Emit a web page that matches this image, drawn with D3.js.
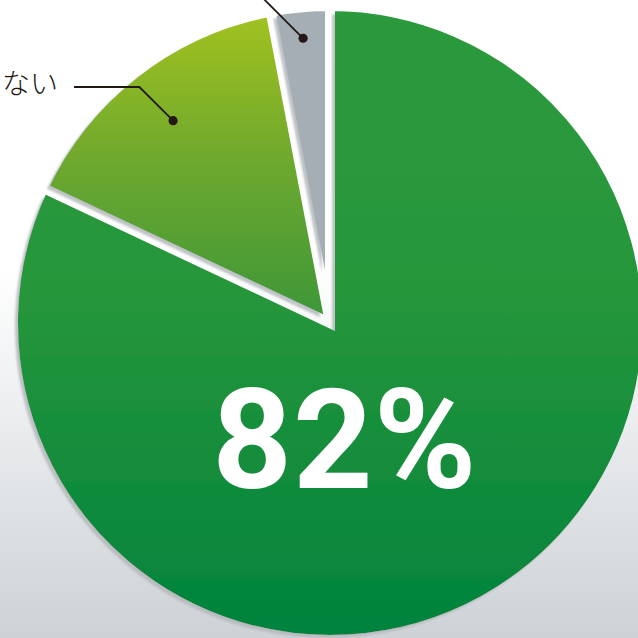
<!DOCTYPE html>
<html lang="ja">
<head>
<meta charset="utf-8">
<title>円グラフ</title>
<script src="https://cdn.jsdelivr.net/npm/d3@7"></script>
<style>
  body { margin: 0; overflow: hidden; background: #fff; }
</style>
</head>
<body>
<script>
  // データ
  const categories = ["main", "ない", "other"];
  const values = [82, 15, 3];
  const labels = ["", "ない", ""];
  const bigLabel = "82%";
  // 各スライスのグラデーション（上、中、下）
  const sliceColors = [
    ["#2c9a3d", "#27963b", "#00833c"],
    ["#a2c21f", "#72aa2d", "#3e9738"],
    ["#a5aeb4", "#a5aeb4", "#a5aeb4"]
  ];

  const w = 638, h = 638;
  const cx = 330, cy = 323;
  const r = 317;
  const gap = 10;   // スライス間の白いすき間

  const svg = d3.select("body").append("svg")
    .attr("width", w)
    .attr("height", h);

  const defs = svg.append("defs");

  // 背景
  const bg = defs.append("linearGradient")
    .attr("id", "bg")
    .attr("x1", 0).attr("y1", 0).attr("x2", 0).attr("y2", 1);
  bg.append("stop").attr("offset", 0.42).attr("stop-color", "#ffffff");
  bg.append("stop").attr("offset", 1).attr("stop-color", "#cdd2d6");
  svg.append("rect")
    .attr("width", w).attr("height", h)
    .attr("fill", "url(#bg)");

  // 影
  const shadow = defs.append("filter")
    .attr("id", "shadow")
    .attr("x", "-10%").attr("y", "-10%")
    .attr("width", "120%").attr("height", "120%");
  shadow.append("feDropShadow")
    .attr("dx", -3).attr("dy", 3)
    .attr("stdDeviation", 0.8)
    .attr("flood-color", "#b4b8bb")
    .attr("flood-opacity", 0.85);

  const pie = d3.pie().sort(null).startAngle(0).endAngle(2 * Math.PI);
  const arcs = pie(values);

  const arc = d3.arc().innerRadius(0).outerRadius(r);

  // スライスごとのグラデーション（縦方向）
  const gradY = [[-313, 312], [-310, -8], [-310, -40]];
  arcs.forEach(function (d, i) {
    const g = defs.append("linearGradient")
      .attr("id", "grad" + i)
      .attr("gradientUnits", "userSpaceOnUse")
      .attr("x1", 0).attr("y1", gradY[i][0])
      .attr("x2", 0).attr("y2", gradY[i][1]);
    g.append("stop").attr("offset", 0).attr("stop-color", sliceColors[i][0]);
    g.append("stop").attr("offset", 0.45).attr("stop-color", sliceColors[i][1]);
    g.append("stop").attr("offset", 1).attr("stop-color", sliceColors[i][2]);

    // 内側に縮めるためのマスク
    const m = defs.append("mask")
      .attr("id", "mask" + i)
      .attr("maskUnits", "userSpaceOnUse")
      .attr("x", -400).attr("y", -400)
      .attr("width", 800).attr("height", 800);
    m.append("path")
      .attr("d", arc(d))
      .attr("fill", "#fff")
      .attr("stroke", "#000")
      .attr("stroke-width", gap);
  });

  const pieG = svg.append("g")
    .attr("transform", "translate(" + cx + "," + cy + ")")
    .attr("filter", "url(#shadow)");

  pieG.selectAll("path")
    .data(arcs)
    .enter()
    .append("path")
    .attr("d", arc)
    .attr("fill", function (d, i) { return "url(#grad" + i + ")"; })
    .attr("mask", function (d, i) { return "url(#mask" + i + ")"; });

  // 中央の大きな数字
  svg.append("text")
    .attr("x", 345)
    .attr("y", 488)
    .attr("text-anchor", "middle")
    .attr("fill", "#ffffff")
    .style("font-family", "Roboto, 'DejaVu Sans', sans-serif")
    .style("font-weight", 700)
    .style("font-size", "139px")
    .style("letter-spacing", "1px")
    .text(bigLabel);

  // 引き出し線
  const lineColor = "#231815";
  const dotArc = d3.arc();
  const dotRadius = [0, 256, 286];

  // 「ない」
  const p1 = dotArc.innerRadius(dotRadius[1]).outerRadius(dotRadius[1]).centroid(arcs[1]);
  const d1 = [cx + p1[0], cy + p1[1]];
  const labelY = 87;
  svg.append("path")
    .attr("d", d3.line()([[74, labelY], [d1[0] - (d1[1] - labelY), labelY], d1]))
    .attr("fill", "none")
    .attr("stroke", lineColor)
    .attr("stroke-width", 1.8);
  svg.append("circle")
    .attr("cx", d1[0]).attr("cy", d1[1])
    .attr("r", 4.6)
    .attr("fill", lineColor);
  svg.append("text")
    .attr("x", 58)
    .attr("y", 94)
    .attr("text-anchor", "end")
    .attr("fill", lineColor)
    .style("font-family", "'Noto Sans CJK JP', sans-serif")
    .style("font-weight", 300)
    .style("font-size", "28px")
    .text(labels[1]);

  // 上のスライス（ラベルは画面外）
  const p2 = dotArc.innerRadius(dotRadius[2]).outerRadius(dotRadius[2]).centroid(arcs[2]);
  const d2 = [cx + p2[0], cy + p2[1]];
  svg.append("path")
    .attr("d", d3.line()([d2, [d2[0] - (d2[1] + 10), -10]]))
    .attr("fill", "none")
    .attr("stroke", lineColor)
    .attr("stroke-width", 1.8);
  svg.append("circle")
    .attr("cx", d2[0]).attr("cy", d2[1])
    .attr("r", 4.6)
    .attr("fill", lineColor);
</script>
</body>
</html>
